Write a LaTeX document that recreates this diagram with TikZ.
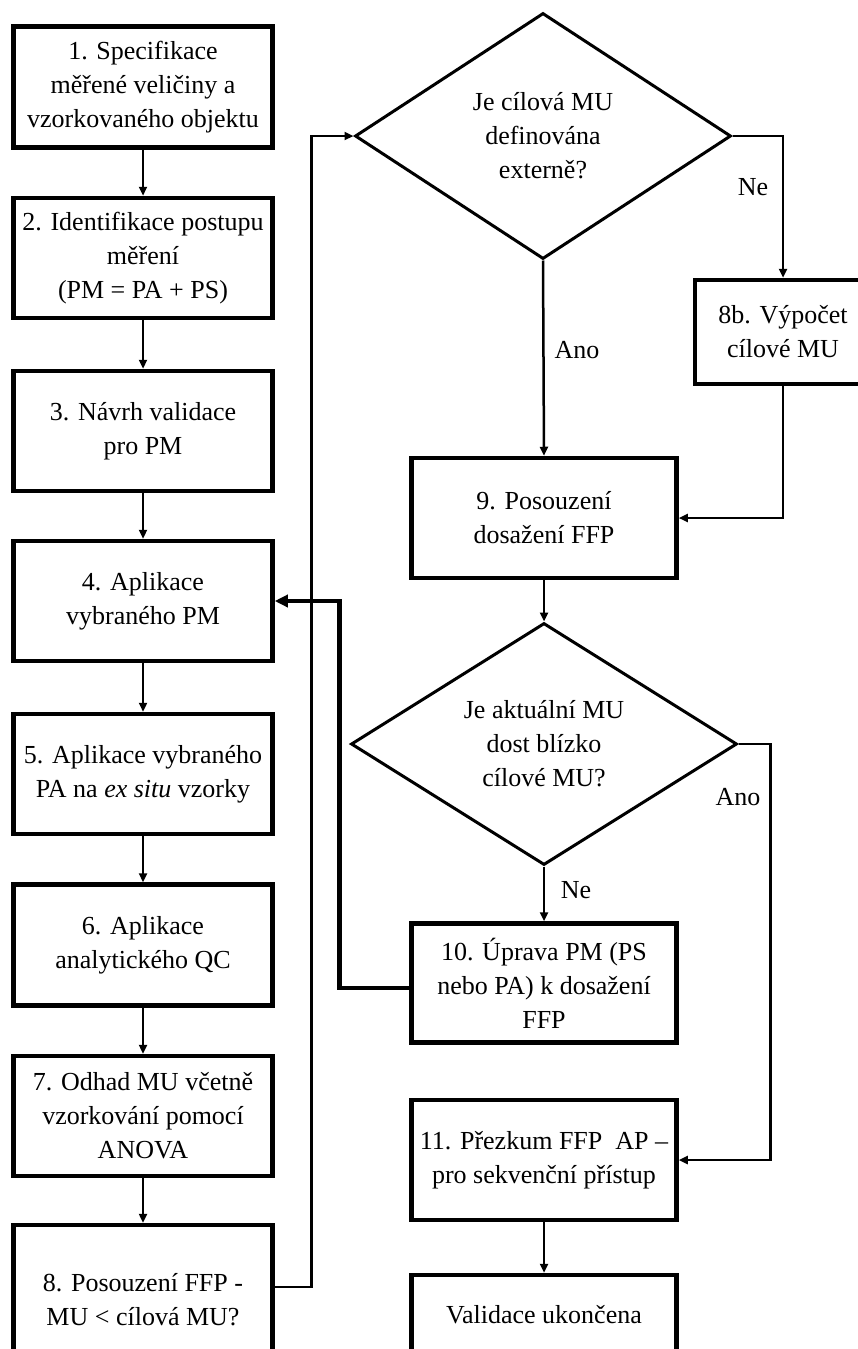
\documentclass[tikz,border=0pt]{standalone}
\usepackage{fontspec}
\setmainfont{Liberation Serif}
\usetikzlibrary{shapes.geometric,arrows.meta,calc}
\begin{document}
\begin{tikzpicture}[x=1pt,y=-1pt,
  txt/.style={font=\fontsize{26}{34}\selectfont},
  box/.style={txt,draw,line width=4.5pt,align=center,inner sep=0pt},
  lbox/.style={box,minimum width=259pt},
  rbox/.style={box,minimum width=265pt},
  dia/.style={txt,draw,shape=diamond,aspect=1.6,line width=3pt,align=center,inner sep=0pt},
  arr/.style={line width=2.5pt,-{Triangle[length=9pt,width=8pt]}},
  thickarr/.style={line width=4.5pt,-{Triangle[length=13pt,width=12pt]}},
  lbl/.style={txt,inner sep=0pt}]
\useasboundingbox (0,0) rectangle (858,1349);
\clip (0,0) rectangle (858,1349);
\fill[white] (0,0) rectangle (858,1349);

% left column
\node[lbox,minimum height=121pt] (b1) at (143,87) {1. Specifikace\\měřené veličiny a\\vzorkovaného objektu};
\node[lbox,minimum height=120pt] (b2) at (143,258) {2. Identifikace postupu\\měření\\(PM = PA + PS)};
\node[lbox,minimum height=120pt] (b3) at (143,431) {3. Návrh validace\\pro PM};
\node[lbox,minimum height=120pt] (b4) at (143,601) {4. Aplikace\\vybraného PM};
\node[lbox,minimum height=120pt] (b5) at (143,774) {5. Aplikace vybraného\\PA na \textit{ex situ} vzorky};
\node[lbox,minimum height=121pt] (b6) at (143,945) {6. Aplikace\\analytického QC};
\node[lbox,minimum height=120pt] (b7) at (143,1116) {7. Odhad MU včetně\\vzorkování pomocí\\ANOVA};
\node[lbox,minimum height=150pt] (b8) at (143,1300) {8. Posouzení FFP -\\MU < cílová MU?};

% right column
\node[dia,minimum width=376pt,minimum height=246pt] (d1) at (543,136) {Je cílová MU\\definována\\externě?};
\node[box,minimum width=176pt,minimum height=104pt] (b8b) at (783,332) {8b. Výpočet\\cílové MU};
\node[rbox,minimum height=120pt] (b9) at (544,518) {9. Posouzení\\dosažení FFP};
\node[dia,minimum width=386pt,minimum height=242pt] (d2) at (544,744) {Je aktuální MU\\dost blízko\\cílové MU?};
\node[rbox,minimum height=119pt] (b10) at (544,983) {10. Úprava PM (PS\\nebo PA) k dosažení\\FFP};
\node[rbox,minimum height=120pt] (b11) at (544,1160) {11. Přezkum FFP\ \ AP –\\pro sekvenční přístup};
\node[rbox,minimum height=80pt] (b12) at (544,1315) {Validace ukončena};

% labels
\node[lbl] (lne1) at (753,187) {Ne};
\node[lbl] (lano1) at (577,350) {Ano};
\node[lbl] (lano2) at (738,797) {Ano};
\node[lbl] (lne2) at (576,890) {Ne};

% left column arrows
\draw[arr] (b1) -- (b2);
\draw[arr] (b2) -- (b3);
\draw[arr] (b3) -- (b4);
\draw[arr] (b4) -- (b5);
\draw[arr] (b5) -- (b6);
\draw[arr] (b6) -- (b7);
\draw[arr] (b7) -- (b8);

% b8 to diamond 1
\draw[arr] ([yshift=13pt]b8.east) -| ($(d1.west)+(-42,0)$) -- (d1.west);
% diamond 1 branches
\draw[arr] (d1.south) -- (b9.north);
\draw[arr] (d1.east) -| (b8b.north);
\draw[arr] (b8b.south) |- (b9.east);
% 9 to diamond 2
\draw[arr] (b9) -- (d2);
\draw[arr] (d2.south) -- (b10.north);
\draw[arr] (d2.east) -- ++(32,0) |- (b11.east);
% loop back
\draw[thickarr] ([yshift=-5pt]b10.west) -- ++(-70,0) |- (b4.east);
\draw[arr] (b11) -- (b12);
\end{tikzpicture}
\end{document}
